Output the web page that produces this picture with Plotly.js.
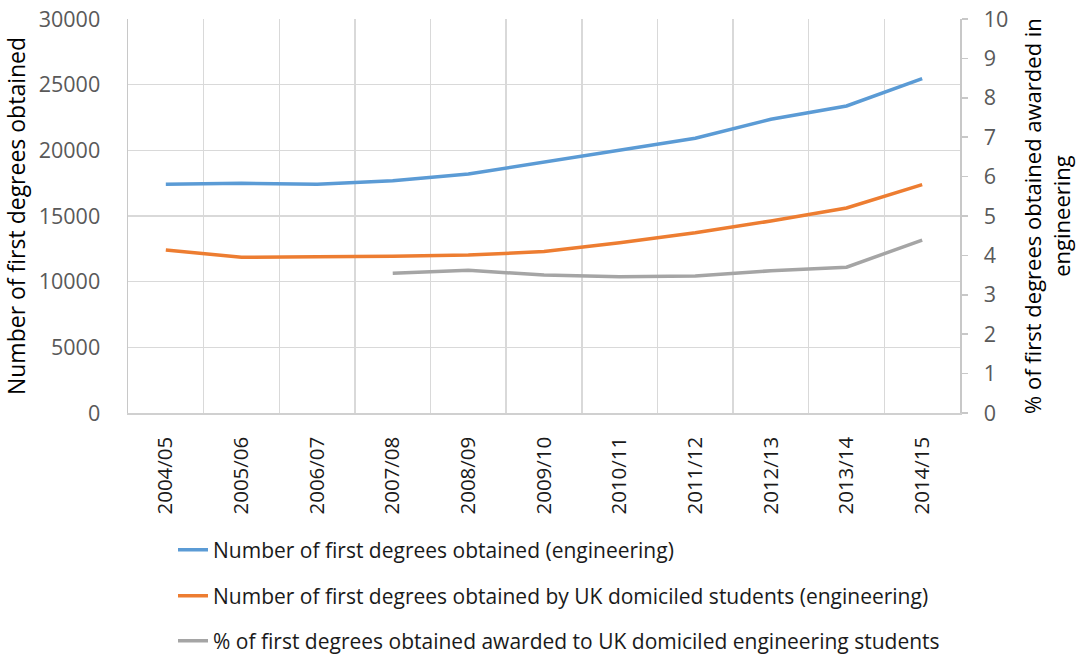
<!DOCTYPE html>
<html>
<head>
<meta charset="utf-8">
<script src="https://cdn.plot.ly/plotly-3.0.1.min.js"></script>
<style>html,body{margin:0;padding:0;background:#fff;}#chart{width:1085px;height:654px;}</style>
</head>
<body>
<div id="chart"></div>
<script>
const years = ["2004/05","2005/06","2006/07","2007/08","2008/09","2009/10","2010/11","2011/12","2012/13","2013/14","2014/15"];
const totalDegrees = [17420, 17490, 17420, 17690, 18200, 19090, 20030, 20920, 22370, 23380, 25460];
const ukDegrees = [12410, 11860, 11900, 11930, 12030, 12290, 12970, 13730, 14620, 15610, 17390];
const ukPercent = [null, null, null, 3.55, 3.62, 3.50, 3.46, 3.48, 3.61, 3.70, 4.39];
const names = [
  "Number of first degrees obtained (engineering)",
  "Number of first degrees obtained by UK domiciled students (engineering)",
  "% of first degrees obtained awarded to UK domiciled engineering students"
];
const FONT = "Open Sans, Noto Sans, sans-serif";
const traces = [
  {x: years, y: totalDegrees, name: names[0], type: "scatter", mode: "lines",
   line: {color: "#5b9bd5", width: 3.5}, legend: "legend"},
  {x: years, y: ukDegrees, name: names[1], type: "scatter", mode: "lines",
   line: {color: "#ed7d31", width: 3.5}, legend: "legend2"},
  {x: years, y: ukPercent, name: names[2], type: "scatter", mode: "lines",
   line: {color: "#a5a5a5", width: 3.5}, yaxis: "y2", legend: "legend3", connectgaps: false}
];
const PL = 128, PT = 19, PW = 832, PH = 394;
const legFont = {family: FONT, size: 21, color: "#1a1a1a"};
const legBase = {orientation: "v", xanchor: "left", yanchor: "middle",
  font: legFont, bgcolor: "rgba(0,0,0,0)", borderwidth: 0, x: (173 - PL) / PW};
const py = p => (PT + PH - p) / PH;
const layout = {
  width: 1085, height: 654,
  margin: {l: 128, r: 125, t: 19, b: 241, autoexpand: false},
  paper_bgcolor: "#fff", plot_bgcolor: "#fff",
  font: {family: FONT, size: 21, color: "#595959"},
  showlegend: true,
  xaxis: {
    type: "category", range: [-0.5, 10.5], tickson: "boundaries", showgrid: true, gridcolor: "#d9d9d9", gridwidth: 1.5,
    showline: true, linecolor: "#d0d0d0", linewidth: 1.5, ticks: "", tickangle: -90,
    tickfont: {family: FONT, size: 20.5, color: "#1a1a1a"}, ticklabelstandoff: 14, automargin: false
  },
  yaxis: {
    range: [0, 30000], dtick: 5000, tickformat: "d", showgrid: true, gridcolor: "#d9d9d9", gridwidth: 1.5,
    zeroline: false, showline: true, linecolor: "#c8c8c8", linewidth: 1.5, ticks: "",
    tickfont: {family: FONT, size: 21.5, color: "#595959"}, ticklabelstandoff: 22, automargin: false,
    title: {text: "Number of first degrees obtained", font: {family: FONT, size: 23, color: "#000"}, standoff: 6}
  },
  yaxis2: {
    overlaying: "y", side: "right", range: [0, 10], dtick: 1, showgrid: false, zeroline: false,
    showline: true, linecolor: "#c8c8c8", linewidth: 1.5, ticks: "outside", ticklen: 6, tickcolor: "#c8c8c8", tickwidth: 1.5,
    tickfont: {family: FONT, size: 21.5, color: "#595959"}, ticklabelstandoff: 12, automargin: false,
    title: {text: "% of first degrees obtained awarded in<br>engineering", font: {family: FONT, size: 22, color: "#000"}, standoff: 18}
  },
  legend: Object.assign({}, legBase, {y: py(550)}),
  legend2: Object.assign({}, legBase, {y: py(596)}),
  legend3: Object.assign({}, legBase, {y: py(641)})
};
Plotly.newPlot("chart", traces, layout, {displayModeBar: false, staticPlot: true});
</script>
</body>
</html>
